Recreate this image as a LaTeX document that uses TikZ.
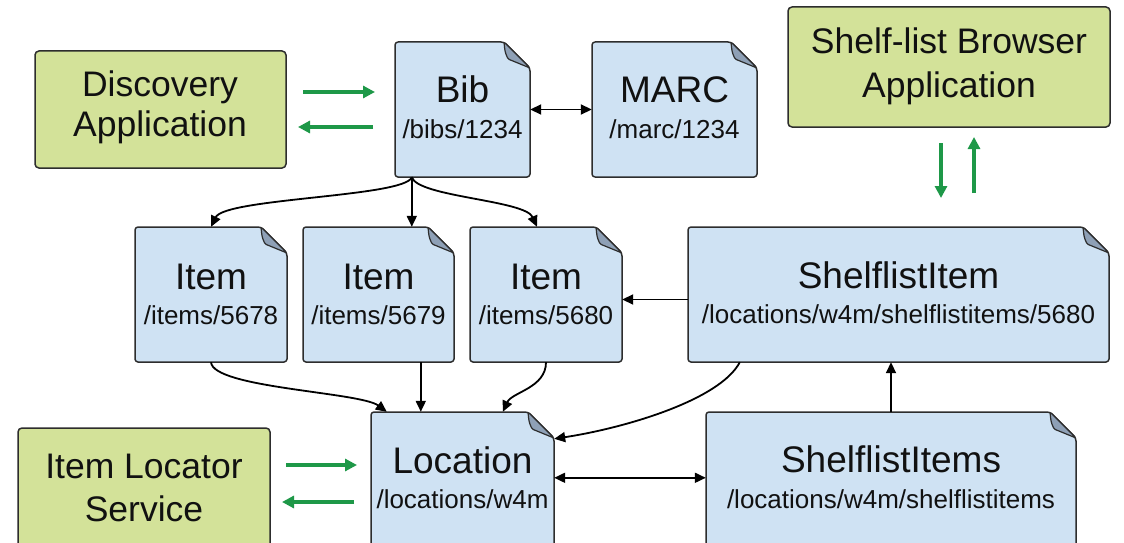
\documentclass[tikz,border=0pt]{standalone}
\usepackage{fontspec}
\setmainfont{Liberation Sans}
\usetikzlibrary{arrows.meta,calc,fit}
\definecolor{docblue}{RGB}{207,226,243}
\definecolor{foldblue}{RGB}{142,160,182}
\definecolor{appgreen}{RGB}{211,226,153}
\definecolor{arrgreen}{RGB}{30,152,72}
\definecolor{edgegray}{RGB}{45,45,45}
\definecolor{txt}{RGB}{17,17,17}
\tikzset{
  docline/.style={fill=docblue, draw=edgegray, line width=1.5pt, rounded corners=3pt, line join=round},
  foldline/.style={fill=foldblue, draw=edgegray, line width=1.2pt, rounded corners=1.5pt, line join=round},
  appbox/.style={fill=appgreen, draw=edgegray, line width=1.5pt, rounded corners=4pt},
  ttl/.style={font=\fontsize{37}{42}\selectfont, anchor=base, inner sep=0pt, text=txt},
  apptxt/.style={font=\fontsize{35.5}{42}\selectfont, anchor=base, inner sep=0pt, text=txt},
  subt/.style={font=\fontsize{26}{30}\selectfont, anchor=base, inner sep=0pt, text=txt},
  conn/.style={draw=black, line width=1.8pt, -{Triangle[length=11pt,width=10pt]}},
  conntwo/.style={draw=black, line width=1.8pt, {Triangle[length=11pt,width=10pt]}-{Triangle[length=11pt,width=10pt]}},
  garrow/.style={draw=arrgreen, line width=3.6pt, -{Triangle[length=12pt,width=12pt]}},
}
\newcommand{\docbox}[5]{%
  \coordinate (#1-nw) at (#2,#3);
  \coordinate (#1-se) at (#4,#5);
  \node[fit=(#1-nw)(#1-se), inner sep=0pt, draw=none] (#1) {};
  \filldraw[docline] (#2,#5) -- (#2,#3) -- ({#4-26},#3) -- (#4,{#3+26}) -- (#4,#5) -- cycle;
  \filldraw[foldline] ({#4-26},#3) .. controls ({#4-25},{#3+10}) .. ({#4-22},{#3+17}) -- (#4,{#3+26}) -- cycle;
}
\newcommand{\appbox}[5]{%
  \coordinate (#1-nw) at (#2,#3);
  \coordinate (#1-se) at (#4,#5);
  \node[fit=(#1-nw)(#1-se), inner sep=0pt, draw=none] (#1) {};
  \filldraw[appbox] (#2,#3) rectangle (#4,#5);
}
\begin{document}
\begin{tikzpicture}[x=1pt,y=-1pt]
\useasboundingbox (0,0) rectangle (1124,543);
\clip (0,0) rectangle (1124,543);
\fill[white] (0,0) rectangle (1124,543);

% application boxes
\appbox{disc}{35}{51}{286}{168}
\node[apptxt] (disc-t1) at (160,96) {Discovery};
\node[apptxt] (disc-t2) at (160,136) {Application};

\appbox{slb}{788}{7}{1110}{127}
\node[apptxt] (slb-t1) at (949,54) {Shelf-list Browser};
\node[apptxt] (slb-t2) at (949,97) {Application};

\appbox{ils}{18}{428}{270}{600}
\node[apptxt] (ils-t1) at (144,478) {Item Locator};
\node[apptxt] (ils-t2) at (144,521) {Service};

% document boxes
\docbox{bib}{395}{42}{530}{177}
\node[ttl] (bib-t) at (462.5,102) {Bib};
\node[subt] (bib-s) at (462.5,138) {/bibs/1234};

\docbox{marc}{592}{42}{757}{177}
\node[ttl] (marc-t) at (674.5,102) {MARC};
\node[subt] (marc-s) at (674.5,138) {/marc/1234};

\docbox{item1}{135}{227}{287}{362}
\node[ttl] (item1-t) at (211,289) {Item};
\node[subt] (item1-s) at (211,324) {/items/5678};

\docbox{item2}{303}{227}{454}{362}
\node[ttl] (item2-t) at (378.5,289) {Item};
\node[subt] (item2-s) at (378.5,324) {/items/5679};

\docbox{item3}{470}{227}{622}{362}
\node[ttl] (item3-t) at (546,289) {Item};
\node[subt] (item3-s) at (546,324) {/items/5680};

\docbox{si}{688}{227}{1109}{362}
\node[ttl] (si-t) at (898.5,288) {ShelflistItem};
\node[subt] (si-s) at (898.5,323) {/locations/w4m/shelflistitems/5680};

\docbox{loc}{371}{412}{554}{600}
\node[ttl] (loc-t) at (462.5,473) {Location};
\node[subt] (loc-s) at (462.5,508) {/locations/w4m};

\docbox{sis}{706}{412}{1076}{600}
\node[ttl] (sis-t) at (891,472) {ShelflistItems};
\node[subt] (sis-s) at (891,508) {/locations/w4m/shelflistitems};

% black connectors
\draw[conntwo] (bib.east) -- (marc.west);
\draw[conn] ([xshift=17pt]bib.south west) .. controls (405,197) and (225,198) .. (item1.north);
\draw[conn] ([xshift=17pt]bib.south west) -- ([xshift=109pt]item2.north west);
\draw[conn] ([xshift=17pt]bib.south west) .. controls (418,197) and (525,200) .. ([xshift=-9pt]item3.north);
\draw[conn] (item1.south) .. controls (213,388) and (360,392) .. ([xshift=16pt]loc.north west);
\draw[conn] ([xshift=118pt]item2.south west) -- ([xshift=50pt]loc.north west);
\draw[conn] (item3.south) .. controls (546,388) and (512,392) .. ([xshift=132pt]loc.north west);
\draw[conn] ([yshift=-5pt]si.west) -- ([yshift=-5pt]item3.east);
\draw[conn] ([xshift=52pt]si.south west) .. controls (720,400) and (625,428) .. ([yshift=-27pt]loc.north east);
\draw[conn] (sis.north) -- (sis.north |- si.south);
\draw[conntwo] ([yshift=-66pt]loc.north east) -- ([yshift=-66pt]sis.north west);

% green arrows
\coordinate (ga1) at (303,92);  \coordinate (gb1) at (375,92);
\coordinate (ga2) at (373,127); \coordinate (gb2) at (298,127);
\draw[garrow] (ga1) -- (gb1);
\draw[garrow] (ga2) -- (gb2);
\coordinate (ga3) at (941,143); \coordinate (gb3) at (941,198);
\coordinate (ga4) at (974,193); \coordinate (gb4) at (974,137);
\draw[garrow] (ga3) -- (gb3);
\draw[garrow] (ga4) -- (gb4);
\coordinate (ga5) at (286,465); \coordinate (gb5) at (357,465);
\coordinate (ga6) at (354,502); \coordinate (gb6) at (282,502);
\draw[garrow] (ga5) -- (gb5);
\draw[garrow] (ga6) -- (gb6);
\end{tikzpicture}
\end{document}
